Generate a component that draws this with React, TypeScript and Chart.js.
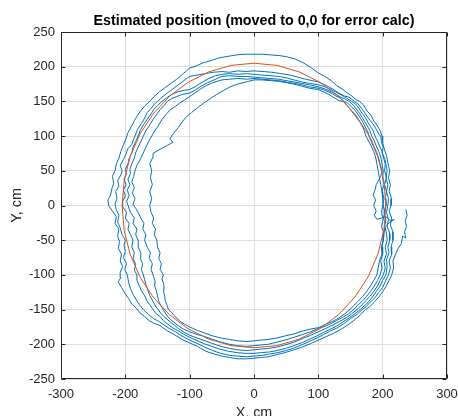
import React, { useEffect, useRef } from "react";
import { Chart, registerables } from "chart.js";

Chart.register(...registerables);

const TITLE = "Estimated position (moved to 0,0 for error calc)";
const X_LABEL = "X, cm";
const Y_LABEL = "Y, cm";
const xTicks = [-300, -200, -100, 0, 100, 200, 300];
const yTicks = [-250, -200, -150, -100, -50, 0, 50, 100, 150, 200, 250];

// reference circle (r ≈ 205 cm), points every 10°
const refCircle: [number, number][] = [
  [205, 0], [201.9, 35.6], [192.6, 70.1], [177.5, 102.5], [157.0, 131.8], [131.8, 157.0],
  [102.5, 177.5], [70.1, 192.6], [35.6, 201.9], [0, 205], [-35.6, 201.9], [-70.1, 192.6],
  [-102.5, 177.5], [-131.8, 157.0], [-157.0, 131.8], [-177.5, 102.5], [-192.6, 70.1], [-201.9, 35.6],
  [-205, 0], [-201.9, -35.6], [-192.6, -70.1], [-177.5, -102.5], [-157.0, -131.8], [-131.8, -157.0],
  [-102.5, -177.5], [-70.1, -192.6], [-35.6, -201.9], [0, -205], [35.6, -201.9], [70.1, -192.6],
  [102.5, -177.5], [131.8, -157.0], [157.0, -131.8], [177.5, -102.5], [192.6, -70.1], [201.9, -35.6],
  [205, 0],
];

// estimated trajectory
const tail: [number, number][] = [
  [236, -6], [238, -14], [235, -22], [237, -30], [234, -38], [236, -47], [231, -44], [229, -55], [224, -62],
  [220, -70], [216, -80], [217, -90], [214, -100],
];
const loopA: [number, number][] = [
  [210, -108], [205, -117], [200, -124], [194, -132], [188, -138], [181, -145], [173, -150], [165, -158],
  [156, -165], [146, -172], [136, -178], [124, -184], [112, -189], [100, -194], [88, -199], [75, -204],
  [62, -208], [48, -212], [35, -215], [22, -218], [10, -219], [0, -220], [-12, -221], [-25, -221],
  [-38, -219], [-50, -217], [-62, -214], [-75, -210], [-88, -203], [-100, -198], [-112, -193], [-124, -186],
  [-136, -180], [-146, -173], [-155, -170], [-163, -166], [-170, -160], [-177, -155], [-183, -148],
  [-190, -142], [-195, -134], [-201, -126], [-206, -118], [-211, -110], [-207, -104], [-208, -96],
  [-204, -88], [-208, -80], [-206, -70], [-211, -62], [-209, -52], [-212, -44], [-210, -34], [-216, -26],
  [-214, -16], [-220, -8], [-226, 0], [-227, 8], [-223, 15], [-221, 24], [-218, 32], [-220, 42],
  [-216, 50], [-214, 60], [-210, 68], [-207, 78], [-203, 87], [-199, 96], [-196, 105], [-191, 113],
  [-186, 122], [-181, 130], [-175, 138], [-169, 144], [-162, 150], [-155, 157], [-147, 164], [-138, 170],
  [-129, 176], [-120, 182], [-110, 190], [-100, 198], [-90, 201], [-78, 206], [-66, 209], [-53, 213],
  [-40, 215], [-27, 217], [-13, 218], [0, 218], [13, 218], [26, 217], [40, 216], [52, 214], [64, 211],
  [76, 206], [88, 199], [100, 191], [110, 186], [120, 180], [128, 173], [137, 168], [145, 162],
  [152, 158], [158, 153], [164, 150], [170, 145], [176, 136], [182, 130], [186, 122], [191, 116],
  [196, 108], [199, 100], [200, 90], [203, 80], [206, 72], [208, 62], [211, 50], [209, 40], [212, 30],
  [210, 20], [214, 10], [213, 0],
];
const loopB: [number, number][] = [
  [210, -8], [214, -18], [212, -28], [216, -38], [216, -50], [213, -60], [214, -70], [210, -80],
  [212, -90], [209, -100], [204, -110], [200, -118], [194, -125], [188, -133], [180, -140], [174, -146],
  [168, -150], [160, -157], [150, -163], [140, -170], [130, -176], [118, -181], [108, -186], [100, -190],
  [88, -195], [76, -200], [63, -205], [50, -209], [37, -212], [24, -214], [12, -216], [0, -217],
  [-12, -218], [-25, -217], [-38, -216], [-52, -213], [-64, -209], [-77, -204], [-90, -198], [-100, -194],
  [-112, -188], [-122, -182], [-132, -177], [-140, -172], [-148, -167], [-156, -163], [-164, -157],
  [-172, -150], [-178, -143], [-183, -136], [-188, -128], [-192, -120], [-195, -110], [-197, -100],
  [-201, -92], [-198, -84], [-203, -75], [-200, -66], [-202, -58], [-200, -50], [-205, -42], [-208, -32],
  [-212, -24], [-210, -14], [-214, -6], [-216, 2], [-213, 10], [-215, 20], [-210, 28], [-212, 36],
  [-207, 44], [-205, 50], [-208, 58], [-203, 66], [-199, 74], [-196, 82], [-190, 88], [-187, 96],
  [-185, 100], [-181, 110], [-175, 118], [-170, 126], [-166, 134], [-160, 140], [-155, 146], [-150, 150],
  [-143, 156], [-135, 162], [-126, 168], [-116, 175], [-106, 182], [-100, 186], [-88, 188], [-76, 190],
  [-63, 192], [-50, 193], [-38, 192], [-25, 194], [-12, 193], [0, 194], [14, 193], [28, 192], [42, 190],
  [56, 188], [68, 185], [80, 182], [90, 180], [100, 178], [112, 173], [122, 168], [132, 162], [140, 158],
  [148, 156], [156, 150], [162, 146], [167, 140], [172, 134], [176, 128], [181, 122], [186, 116],
  [190, 110], [194, 103], [197, 100], [198, 92], [201, 84], [199, 76], [203, 68], [205, 60], [207, 50],
  [205, 40], [208, 30], [206, 20], [209, 10], [208, 0],
];
const loopC: [number, number][] = [
  [206, -10], [209, -20], [207, -30], [211, -40], [211, -50], [208, -60], [210, -68], [206, -78],
  [207, -88], [205, -100], [200, -108], [196, -116], [190, -124], [184, -132], [177, -140], [171, -145],
  [165, -150], [157, -156], [148, -162], [138, -168], [128, -174], [117, -179], [108, -183], [100, -187],
  [88, -192], [76, -197], [62, -202], [49, -206], [36, -209], [24, -211], [12, -212], [0, -213],
  [-13, -213], [-26, -212], [-40, -210], [-53, -207], [-66, -203], [-78, -199], [-90, -194], [-100, -190],
  [-110, -185], [-119, -180], [-127, -176], [-134, -171], [-140, -167], [-146, -160], [-152, -156],
  [-157, -150], [-161, -144], [-166, -138], [-170, -130], [-175, -123], [-178, -116], [-182, -108],
  [-182, -100], [-186, -93], [-184, -85], [-188, -76], [-186, -68], [-190, -60], [-188, -50], [-192, -42],
  [-196, -34], [-194, -26], [-200, -18], [-198, -10], [-204, -2], [-204, 6], [-200, 14], [-203, 22],
  [-199, 30], [-202, 38], [-198, 46], [-200, 52], [-196, 60], [-194, 68], [-190, 76], [-188, 84],
  [-184, 92], [-180, 100], [-177, 108], [-172, 116], [-166, 124], [-160, 132], [-156, 138], [-150, 144],
  [-143, 150], [-136, 155], [-128, 160], [-118, 164], [-108, 166], [-100, 167], [-90, 172], [-80, 178],
  [-70, 183], [-60, 187], [-50, 189], [-38, 190], [-25, 189], [-12, 190], [0, 189], [12, 188], [25, 187],
  [38, 186], [50, 184], [62, 181], [74, 178], [86, 176], [100, 174], [110, 171], [120, 167], [130, 162],
  [138, 158], [145, 154], [152, 150], [158, 146], [163, 140], [168, 133], [173, 127], [177, 120],
  [181, 114], [185, 108], [188, 100], [192, 93], [195, 86], [199, 78], [201, 70], [204, 60], [203, 50],
  [206, 40], [203, 30], [206, 20], [204, 10], [205, 0],
];
const loopD: [number, number][] = [
  [202, -10], [205, -20], [203, -30], [206, -40], [207, -50], [204, -60], [206, -70], [202, -80],
  [204, -90], [201, -100], [196, -108], [192, -116], [186, -124], [180, -131], [173, -138], [166, -145],
  [160, -150], [152, -156], [143, -162], [133, -167], [123, -172], [112, -177], [100, -182], [88, -187],
  [75, -192], [62, -197], [48, -201], [35, -204], [22, -206], [10, -207], [0, -208], [-12, -209],
  [-25, -208], [-38, -206], [-51, -203], [-64, -199], [-76, -195], [-88, -191], [-100, -187], [-110, -182],
  [-118, -177], [-124, -172], [-130, -168], [-135, -164], [-140, -160], [-145, -155], [-149, -150],
  [-153, -145], [-157, -138], [-162, -130], [-165, -122], [-168, -114], [-170, -107], [-172, -100],
  [-175, -92], [-173, -84], [-177, -76], [-176, -68], [-180, -60], [-180, -50], [-184, -42], [-182, -34],
  [-188, -26], [-186, -18], [-192, -10], [-195, -2], [-198, 6], [-194, 14], [-197, 22], [-193, 30],
  [-196, 38], [-192, 46], [-193, 52], [-190, 60], [-186, 68], [-184, 76], [-180, 84], [-176, 92],
  [-172, 100], [-168, 108], [-162, 116], [-157, 124], [-151, 132], [-146, 138], [-140, 144], [-135, 150],
  [-128, 154], [-120, 157], [-112, 160], [-100, 162], [-92, 166], [-82, 172], [-72, 177], [-62, 181],
  [-50, 186], [-38, 187], [-25, 186], [-12, 186], [0, 185], [12, 184], [25, 183], [38, 182], [50, 180],
  [62, 178], [74, 176], [86, 174], [100, 171], [110, 168], [120, 164], [128, 160], [135, 156], [142, 153],
  [148, 150], [154, 145], [159, 139], [164, 133], [168, 127], [172, 121], [176, 115], [180, 108],
  [183, 100], [187, 93], [190, 86], [194, 78], [197, 70], [199, 60], [201, 50], [200, 40], [202, 30],
  [199, 20], [202, 10], [200, 0],
];
const loopE: [number, number][] = [
  [198, -10], [201, -20], [198, -30], [202, -40], [201, -50], [199, -60], [200, -70], [197, -80],
  [199, -90], [196, -100], [192, -108], [187, -116], [181, -124], [175, -131], [168, -138], [161, -144],
  [155, -150], [147, -156], [138, -161], [128, -166], [118, -171], [108, -175], [100, -177], [88, -182],
  [75, -186], [62, -190], [48, -194], [35, -197], [22, -200], [10, -201], [0, -202], [-12, -203],
  [-25, -202], [-38, -200], [-51, -197], [-64, -193], [-76, -189], [-88, -186], [-100, -182], [-110, -178],
  [-118, -173], [-125, -168], [-130, -164], [-134, -160], [-138, -155], [-141, -150], [-145, -144],
  [-148, -138], [-150, -130], [-152, -122], [-155, -114], [-154, -108], [-157, -100], [-160, -92],
  [-158, -84], [-163, -76], [-161, -68], [-166, -60], [-170, -50], [-168, -42], [-173, -34], [-171, -26],
  [-176, -18], [-180, -10], [-184, -4], [-188, 2], [-185, 10], [-189, 18], [-186, 26], [-190, 34],
  [-187, 42], [-185, 50], [-182, 58], [-178, 64], [-175, 70], [-171, 78], [-168, 84], [-164, 92],
  [-159, 100], [-154, 108], [-148, 116], [-143, 124], [-136, 132], [-130, 138], [-122, 143], [-115, 148],
  [-108, 152], [-100, 157], [-92, 162], [-83, 168], [-74, 173], [-64, 177], [-50, 181], [-38, 182],
  [-25, 183], [-12, 182], [0, 183], [12, 182], [25, 181], [38, 180], [50, 178], [62, 176], [74, 174],
  [86, 171], [100, 169], [110, 166], [120, 162], [127, 158], [134, 155], [140, 150], [146, 147],
  [152, 142], [157, 137], [162, 131], [166, 125], [170, 119], [173, 113], [177, 106], [179, 100],
  [183, 93], [186, 86], [190, 78], [193, 70], [196, 60], [199, 50], [197, 42], [193, 35], [190, 30],
  [188, 22], [185, 15], [189, 8], [186, 0], [190, -8], [187, -14], [191, -20], [198, -18], [205, -16],
  [212, -22], [218, -20], [210, -25],
];
const loopF: [number, number][] = [
  [204, -30], [202, -40], [201, -50], [198, -60], [199, -70], [195, -80], [193, -90], [191, -100],
  [186, -108], [181, -116], [175, -124], [169, -131], [162, -138], [155, -144], [149, -150], [141, -156],
  [132, -162], [122, -167], [112, -171], [100, -176], [88, -178], [75, -181], [62, -185], [48, -188],
  [35, -191], [22, -193], [10, -194], [0, -195], [-12, -196], [-25, -195], [-38, -193], [-51, -191],
  [-64, -188], [-76, -184], [-88, -180], [-100, -175], [-108, -171], [-115, -167], [-120, -162],
  [-125, -158], [-128, -154], [-133, -150], [-135, -144], [-138, -137], [-139, -130], [-141, -122],
  [-140, -114], [-143, -106], [-141, -100], [-146, -92], [-144, -84], [-148, -76], [-146, -68],
  [-150, -60], [-151, -50], [-155, -42], [-153, -34], [-158, -26], [-156, -18], [-160, -10], [-162, 0],
  [-159, 10], [-162, 20], [-158, 30], [-161, 40], [-159, 50], [-162, 60], [-158, 68], [-157, 75],
  [-148, 80], [-140, 84], [-132, 88], [-126, 91], [-131, 96], [-125, 104], [-118, 112], [-112, 120],
  [-105, 128], [-97, 134], [-89, 140], [-79, 147], [-68, 154], [-58, 160], [-47, 166], [-37, 171],
  [-25, 175], [-12, 178], [0, 181], [12, 181], [25, 180], [38, 179], [50, 177], [62, 175], [74, 172],
  [86, 169], [100, 167], [110, 163], [118, 159], [125, 155], [132, 151], [139, 150], [145, 144],
  [150, 138], [155, 132], [160, 126], [165, 120], [169, 113], [172, 106], [174, 100], [178, 93],
  [182, 86], [186, 78], [189, 70], [191, 60], [193, 50], [195, 40], [197, 30], [199, 20], [200, 10],
  [201, 0], [203, -10], [201, -20],
];

const TEXT = "#262626";
const FONT = "'Liberation Sans', Arial, Helvetica, sans-serif";

const framePlugin = {
  id: "matlabFrame",
  afterDraw(chart: any) {
    const { ctx, chartArea: a, scales } = chart;
    ctx.save();
    ctx.strokeStyle = TEXT;
    ctx.lineWidth = 1;
    const L = Math.round(a.left) + 0.5;
    const R = Math.round(a.right) - 0.5;
    const T = Math.round(a.top) + 0.5;
    const B = Math.round(a.bottom) - 0.5;
    ctx.beginPath();
    ctx.rect(L, T, R - L, B - T);
    const tl = 4;
    for (const v of xTicks) {
      const p = Math.round(scales.x.getPixelForValue(v)) + 0.5;
      ctx.moveTo(p, B);
      ctx.lineTo(p, B - tl);
      ctx.moveTo(p, T);
      ctx.lineTo(p, T + tl);
    }
    for (const v of yTicks) {
      const p = Math.round(scales.y.getPixelForValue(v)) + 0.5;
      ctx.moveTo(L, p);
      ctx.lineTo(L + tl, p);
      ctx.moveTo(R, p);
      ctx.lineTo(R - tl, p);
    }
    ctx.stroke();

    const cx = (a.left + a.right) / 2;
    const cy = (a.top + a.bottom) / 2;
    ctx.fillStyle = "#000";
    ctx.font = `bold 14.3px ${FONT}`;
    ctx.textAlign = "center";
    ctx.textBaseline = "alphabetic";
    ctx.fillText(TITLE, cx, 25);

    ctx.fillStyle = TEXT;
    ctx.font = `14.3px ${FONT}`;
    ctx.fillText(X_LABEL, cx, 417);
    ctx.translate(20.5, cy);
    ctx.rotate(-Math.PI / 2);
    ctx.fillText(Y_LABEL, 0, 0);
    ctx.restore();
  },
};

const toPts = (arr: [number, number][]) => arr.map(([x, y]) => ({ x, y }));

export default function App() {
  const ref = useRef<HTMLCanvasElement | null>(null);
  useEffect(() => {
    if (!ref.current) return;
    const path = [...tail, ...loopA, ...loopB, ...loopC, ...loopD, ...loopE, ...loopF];
    const chart = new Chart(ref.current, {
      type: "scatter",
      data: {
        datasets: [
          {
            data: toPts(refCircle),
            showLine: true,
            borderColor: "#D95319",
            borderWidth: 1,
            pointRadius: 0,
            fill: false,
          },
          {
            data: toPts(path),
            showLine: true,
            borderColor: "#0072BD",
            borderWidth: 1,
            pointRadius: 0,
            fill: false,
          },
        ],
      },
      options: {
        animation: false,
        responsive: false,
        devicePixelRatio: 1,
        layout: { padding: { top: 32, right: 0, bottom: 0, left: 0 } },
        plugins: { legend: { display: false }, tooltip: { enabled: false }, title: { display: false } },
        scales: {
          x: {
            type: "linear",
            min: -300,
            max: 300,
            afterBuildTicks: (s: any) => { s.ticks = xTicks.map((v) => ({ value: v })); },
            afterFit: (s: any) => { s.height = 37; s.paddingRight = 11; s.paddingLeft = 0; },
            grid: { color: "#dfdfdf", lineWidth: 1, drawTicks: false },
            border: { display: false },
            ticks: {
              padding: 8,
              autoSkip: false,
              maxRotation: 0,
              color: TEXT,
              font: { family: FONT, size: 13 },
            },
          },
          y: {
            type: "linear",
            min: -250,
            max: 250,
            afterBuildTicks: (s: any) => { s.ticks = yTicks.map((v) => ({ value: v })); },
            afterFit: (s: any) => { s.width = 61; s.paddingTop = 0; s.paddingBottom = 0; },
            grid: { color: "#dfdfdf", lineWidth: 1, drawTicks: false },
            border: { display: false },
            ticks: {
              padding: 6,
              autoSkip: false,
              color: TEXT,
              font: { family: FONT, size: 13 },
            },
          },
        },
      },
      plugins: [framePlugin],
    });
    return () => chart.destroy();
  }, []);
  return (
    <div style={{ position: "fixed", left: 0, top: 0, width: 458, height: 416, background: "#fff" }}>
      <canvas ref={ref} width={458} height={416} style={{ width: 458, height: 416 }} />
    </div>
  );
}
